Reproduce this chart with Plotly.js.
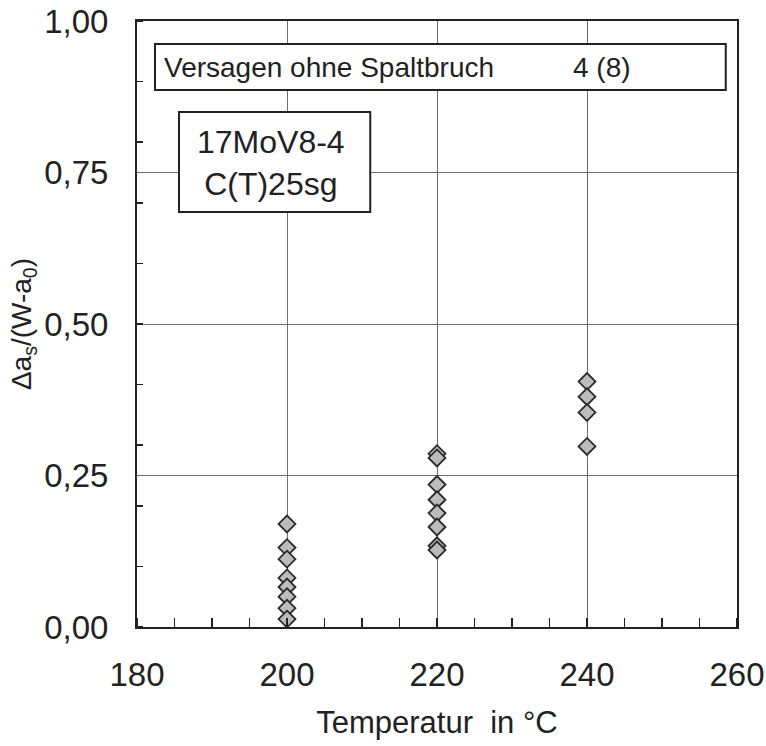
<!DOCTYPE html>
<html>
<head>
<meta charset="utf-8">
<script src="https://cdn.plot.ly/plotly-3.0.1.min.js"></script>
<style>html,body{margin:0;padding:0;background:#fff;}#chart{width:766px;height:746px;}</style>
</head>
<body>
<div id="chart"></div>
<script>
// Data
const temp200 = [200, 200, 200, 200, 200, 200, 200, 200];
const da200 = [0.170, 0.131, 0.112, 0.081, 0.066, 0.050, 0.031, 0.013];
const temp220 = [220, 220, 220, 220, 220, 220, 220, 220];
const da220 = [0.286, 0.279, 0.235, 0.210, 0.188, 0.165, 0.134, 0.127];
const temp240 = [240, 240, 240, 240];
const da240 = [0.405, 0.380, 0.354, 0.298];

const xTickVals = [180, 200, 220, 240, 260];
const yTickVals = [0, 0.25, 0.5, 0.75, 1.0];

const infoText = "Versagen ohne Spaltbruch";
const infoCount = "4 (8)";
const materialText = "17MoV8-4<br>C(T)25sg";

const xs = temp200.concat(temp220, temp240);
const ys = da200.concat(da220, da240);

const FONT = '"Liberation Sans", Arial, Helvetica, sans-serif';
const INK = '#222';

const trace = {
  x: xs, y: ys, type: 'scatter', mode: 'markers',
  marker: {symbol: 'diamond', size: 13, color: '#bcbcbc', line: {color: '#2a2a2a', width: 1.8}},
  showlegend: false, cliponaxis: false
};

const layout = {
  width: 766, height: 746,
  margin: {l: 137, r: 29, t: 21, b: 119},
  paper_bgcolor: '#fff', plot_bgcolor: '#fff',
  separators: ',.',
  font: {family: FONT, color: INK},
  xaxis: {
    range: [180, 260], tickvals: xTickVals, ticktext: xTickVals.map(String),
    showgrid: true, gridcolor: '#6e6e6e', gridwidth: 1,
    showline: true, linecolor: INK, linewidth: 2, mirror: true,
    ticks: '', zeroline: false,
    tickfont: {size: 33, family: FONT, color: INK},
    ticklabelstandoff: 17,
    minor: {dtick: 5, tick0: 180, ticks: 'inside', ticklen: 9, tickwidth: 1.5, tickcolor: INK, showgrid: false},
    title: {text: 'Temperatur  in °C', font: {size: 31, family: FONT, color: INK}, standoff: 20}
  },
  yaxis: {
    range: [0, 1.0], tickvals: yTickVals, tickformat: '.2f',
    showgrid: true, gridcolor: '#6e6e6e', gridwidth: 1,
    showline: true, linecolor: INK, linewidth: 2, mirror: true,
    ticks: '', zeroline: false,
    tickfont: {size: 33, family: FONT, color: INK},
    ticklabelstandoff: 20,
    minor: {dtick: 0.1, tick0: 0, ticks: 'inside', ticklen: 6, tickwidth: 1.5, tickcolor: INK, showgrid: false},
    title: {text: 'Δa<sub>s</sub>/(W-a<sub>0</sub>)', font: {size: 28, family: FONT, color: INK}, standoff: 4}
  },
  shapes: [
    {type: 'rect', xref: 'x', yref: 'y', x0: 182.4, x1: 258.5, y0: 0.886, y1: 0.962,
     line: {color: INK, width: 2}, fillcolor: '#fff', layer: 'above'},
    {type: 'rect', xref: 'x', yref: 'y', x0: 185.6, x1: 211.1, y0: 0.685, y1: 0.850,
     line: {color: INK, width: 2}, fillcolor: '#fff', layer: 'above'}
  ],
  annotations: [
    {xref: 'x', yref: 'y', x: 183.3, y: 0.924, xanchor: 'left', yanchor: 'middle', text: infoText,
     showarrow: false, font: {size: 28, family: FONT, color: INK}},
    {xref: 'x', yref: 'y', x: 237.9, y: 0.924, xanchor: 'left', yanchor: 'middle', text: infoCount,
     showarrow: false, font: {size: 28, family: FONT, color: INK}},
    {xref: 'x', yref: 'y', x: 197.8, y: 0.765, xanchor: 'center', yanchor: 'middle', text: materialText,
     showarrow: false, align: 'center', font: {size: 32, family: FONT, color: INK}}
  ]
};

Plotly.newPlot('chart', [trace], layout, {displayModeBar: false, staticPlot: true});
</script>
</body>
</html>
